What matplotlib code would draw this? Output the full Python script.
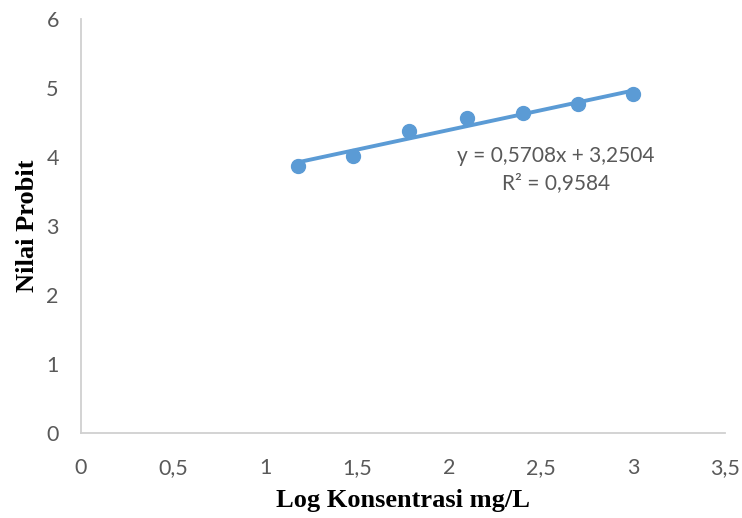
# Probit vs log concentration, linear trend line
import numpy as np
import matplotlib.pyplot as plt
from matplotlib.ticker import FuncFormatter

# Data
log_konsentrasi = [1.18, 1.48, 1.78, 2.10, 2.40, 2.70, 3.00]
nilai_probit = [3.87, 4.01, 4.37, 4.57, 4.64, 4.77, 4.91]
slope = 0.5708
intercept = 3.2504
r2 = 0.9584

blue = '#5B9BD5'
grey = '#595959'

fig = plt.figure(figsize=(7.42, 5.18), dpi=100)
ax = fig.add_axes([81/742, 1 - 433/518, (725 - 81)/742, (433 - 19)/518])

# trend line across the data range
xs = np.array([min(log_konsentrasi), max(log_konsentrasi)])
ax.plot(xs, slope*xs + intercept, color=blue, lw=2.8, zorder=2)
ax.plot(log_konsentrasi, nilai_probit, 'o', color=blue, ms=10, zorder=3)

ax.set_xlim(0, 3.5)
ax.set_ylim(0, 6)
ax.set_xticks(np.arange(0, 3.51, 0.5))
ax.set_yticks(range(0, 7))
comma = FuncFormatter(lambda v, p: ('%g' % v).replace('.', ','))
ax.xaxis.set_major_formatter(comma)
ax.yaxis.set_major_formatter(comma)
ax.tick_params(length=0, labelsize=15.5, labelcolor=grey)
ax.tick_params(axis='x', pad=18)
ax.tick_params(axis='y', pad=16)
for lbl in ax.get_xticklabels() + ax.get_yticklabels():
    lbl.set_family('Lato')

for s in ['top', 'right']:
    ax.spines[s].set_visible(False)
for s in ['left', 'bottom']:
    ax.spines[s].set_color('#D0D0D0')
    ax.spines[s].set_linewidth(1.3)

ax.text(2.58, 3.82, 'y = 0,5708x + %s\nR² = %s' % (('%.4f' % intercept).replace('.', ','),
                                                   ('%.4f' % r2).replace('.', ',')),
        ha='center', va='center', fontsize=15, color=grey, family='Lato', linespacing=1.45)

fig.text(28/742, 1 - 226/518, 'Nilai Probit', rotation=90, ha='center', va='center',
         fontsize=19, fontweight='bold', family='Liberation Serif')
fig.text(403/742, 1 - 501/518, 'Log Konsentrasi mg/L', ha='center', va='center',
         fontsize=19, fontweight='bold', family='Liberation Serif')

fig.savefig('out.png', dpi=100)
